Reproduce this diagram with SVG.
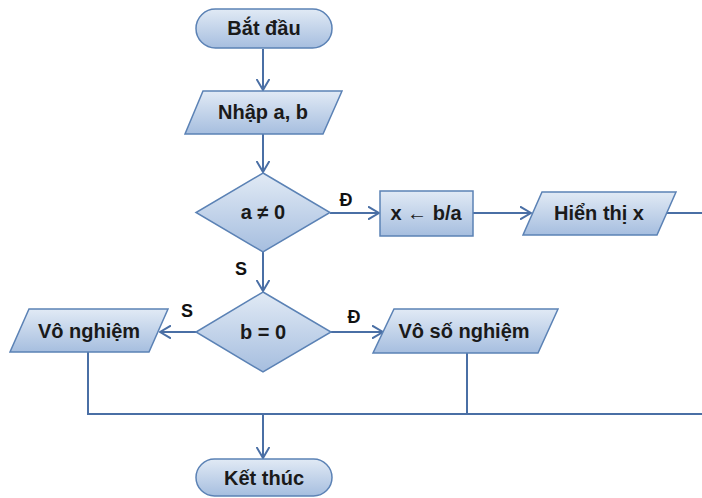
<svg xmlns="http://www.w3.org/2000/svg" width="702" height="498" viewBox="0 0 702 498">
<style>
.shape{fill:url(#g);stroke:#5b82b5;stroke-width:1.5}
.t{font-family:"Liberation Sans",Arial,sans-serif;font-weight:bold;font-size:20px;fill:#1a1a1a;text-anchor:middle}
.lbl{font-family:"Liberation Sans",Arial,sans-serif;font-weight:bold;font-size:18px;fill:#111;text-anchor:middle}
.c{fill:none;stroke:#4a6fa5;stroke-width:2}
</style>
<defs>
<linearGradient id="g" x1="0" y1="0" x2="0" y2="1">
<stop offset="0" stop-color="#e1eaf5"/>
<stop offset="1" stop-color="#a6bedf"/>
</linearGradient>
<marker id="a" viewBox="0 0 12 14" refX="11" refY="7" markerWidth="12" markerHeight="14" markerUnits="userSpaceOnUse" orient="auto">
<path d="M0,0.5 L11,7 L0,13.5" fill="none" stroke="#4a6fa5" stroke-width="2"/>
</marker>
</defs>
<rect width="702" height="498" fill="#fff"/>
<g id="connectors">
<path class="c" d="M263,49 V90" marker-end="url(#a)"/>
<path class="c" d="M263,134 V172" marker-end="url(#a)"/>
<path class="c" d="M330,213 H379" marker-end="url(#a)"/>
<path class="c" d="M473,213 H531" marker-end="url(#a)"/>
<path class="c" d="M667,213 H702"/>
<path class="c" d="M263,252 V291" marker-end="url(#a)"/>
<path class="c" d="M196,332 H160" marker-end="url(#a)"/>
<path class="c" d="M331,332 H383" marker-end="url(#a)"/>
<path class="c" d="M88,352 V414 H702"/>
<path class="c" d="M467,353 V414"/>
<path class="c" d="M263,414 V458" marker-end="url(#a)"/>
<text class="lbl" x="346" y="206">Đ</text>
<text class="lbl" x="241" y="275">S</text>
<text class="lbl" x="187" y="317">S</text>
<text class="lbl" x="354" y="323">Đ</text>
</g>
<g id="start">
<rect class="shape" x="196" y="9" width="136" height="39" rx="19.5"/>
<text class="t" x="264" y="35">Bắt đầu</text>
</g>
<g id="input">
<polygon class="shape" points="203,91 342,91 323,134 185,134"/>
<text class="t" x="263" y="119">Nhập a, b</text>
</g>
<g id="cond1">
<polygon class="shape" points="263,173 330,212.5 263,252 196,212.5"/>
<text class="t" x="263" y="219">a ≠ 0</text>
</g>
<g id="assign">
<rect class="shape" x="380" y="191" width="93" height="45"/>
<text class="t" x="426" y="220">x ← b/a</text>
</g>
<g id="output">
<polygon class="shape" points="542,192 676,192 657,235 523,235"/>
<text class="t" x="599" y="220">Hiển thị x</text>
</g>
<g id="cond2">
<polygon class="shape" points="263,292 331,332 263,372 196,332"/>
<text class="t" x="263" y="339">b = 0</text>
</g>
<g id="nosol">
<polygon class="shape" points="29,309 168,309 149,352 10,352"/>
<text class="t" x="89" y="338">Vô nghiệm</text>
</g>
<g id="infsol">
<polygon class="shape" points="394,309 558,309 538,353 373,353"/>
<text class="t" x="464" y="338">Vô số nghiệm</text>
</g>
<g id="end">
<rect class="shape" x="196" y="459" width="136" height="37" rx="18.5"/>
<text class="t" x="264" y="485">Kết thúc</text>
</g>
</svg>
